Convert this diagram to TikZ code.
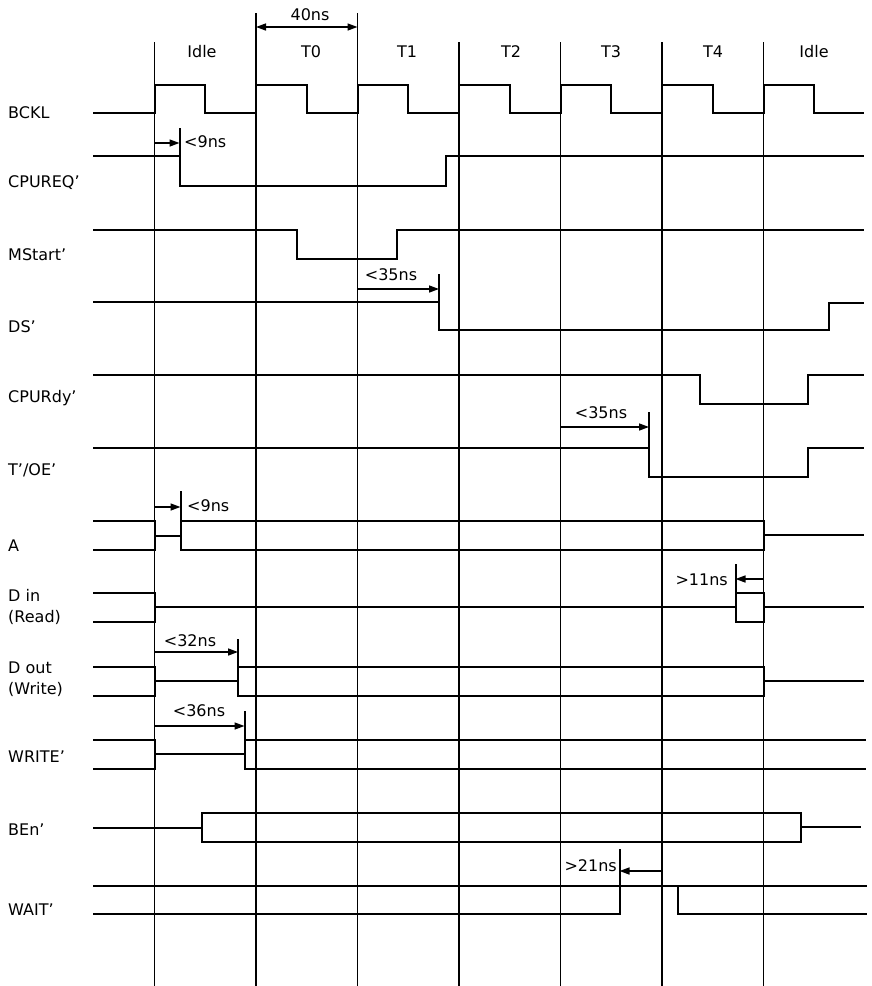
\documentclass[tikz,border=0pt]{standalone}
\usepackage{fontspec}
\setmainfont{DejaVu Sans}
\usetikzlibrary{arrows.meta}
\tikzset{
  sig/.style={line width=2pt, line join=miter, line cap=rect},
  gridline/.style={line width=1.8pt},
  dimarrow/.style={line width=1.5pt, -{Triangle[length=10pt,width=7pt]}},
  dimboth/.style={line width=1.5pt, {Triangle[length=10pt,width=7pt]}-{Triangle[length=10pt,width=7pt]}},
  lbl/.style={anchor=west, inner sep=0pt, align=left, font=\fontsize{16}{21}\selectfont},
  txt/.style={inner sep=0pt, font=\fontsize{16}{20}\selectfont}
}
\begin{document}
\begin{tikzpicture}[x=1pt,y=-1pt]
\useasboundingbox (0,0) rectangle (871,986);
\fill[white] (0,0) rectangle (871,986);

% grid lines
\foreach \x/\t in {154.5/42, 256/13, 357.5/13, 459/42, 560.5/42, 662/42, 763.5/42}
  \draw[gridline] (\x,\t) -- (\x,986);

% phase headers
\node[txt] (hIdleA) at (202,52) {Idle};
\node[txt] (hT0) at (311,52) {T0};
\node[txt] (hT1) at (407,52) {T1};
\node[txt] (hT2) at (511,52) {T2};
\node[txt] (hT3) at (611,52) {T3};
\node[txt] (hT4) at (713,52) {T4};
\node[txt] (hIdleB) at (814,52) {Idle};

% 40ns
\coordinate (p40a) at (256,27);
\coordinate (p40b) at (357.5,27);
\draw[dimboth] (p40a) -- (p40b);
\node[txt] (t40) at (310,15) {40ns};

% signal labels
\node[lbl] (lBCKL) at (8,113) {BCKL};
\node[lbl] (lREQ) at (8,183) {CPUREQ'};
\node[lbl] (lMS) at (8,255) {MStart'};
\node[lbl] (lDS) at (8,327) {DS'};
\node[lbl] (lRdy) at (8,398) {CPURdy'};
\node[lbl] (lOE) at (8,470) {T'/OE'};
\node[lbl] (lA) at (8,546) {A};
\node[lbl] (lDin) at (8,607) {D in\\(Read)};
\node[lbl] (lDout) at (8,679) {D out\\(Write)};
\node[lbl] (lWR) at (8,757) {WRITE'};
\node[lbl] (lBEn) at (8,830) {BEn'};
\node[lbl] (lWAIT) at (8,910) {WAIT'};

% BCKL
\draw[sig] (94,113) foreach \x in {154.5,256,357.5,459,560.5,662,763.5}{ -- (\x,113) -- (\x,85) -- (\x+50.5,85) -- (\x+50.5,113)} -- (863,113);

% CPUREQ'
\draw[sig] (94,156) -- (179.5,156) -- (179.5,186) -- (446,186) -- (446,156) -- (863,156);
\draw[sig] (179.5,129) -- (179.5,156);
\coordinate (r1a) at (154.5,143);
\coordinate (r1b) at (179.5,143);
\draw[dimarrow] (r1a) -- (r1b);
\node[txt, anchor=west] (tr1) at (184,142) {<9ns};

% MStart'
\draw[sig] (94,230) -- (297,230) -- (297,259) -- (396.5,259) -- (396.5,230) -- (863,230);

% DS'
\draw[sig] (94,302) -- (439,302) -- (439,330) -- (829,330) -- (829,303) -- (863,303);
\draw[sig] (439,275) -- (439,302);
\coordinate (r2a) at (357.5,289);
\coordinate (r2b) at (439,289);
\draw[dimarrow] (r2a) -- (r2b);
\node[txt] (tr2) at (391,275) {<35ns};

% CPURdy'
\draw[sig] (94,375) -- (700,375) -- (700,404) -- (807.5,404) -- (807.5,375) -- (863,375);

% T'/OE'
\draw[sig] (94,448) -- (649,448) -- (649,477) -- (807.5,477) -- (807.5,448) -- (863,448);
\draw[sig] (649,413) -- (649,448);
\coordinate (r3a) at (560.5,427);
\coordinate (r3b) at (649,427);
\draw[dimarrow] (r3a) -- (r3b);
\node[txt] (tr3) at (601,413) {<35ns};

% A
\draw[sig] (94,521) -- (154.5,521);
\draw[sig] (94,550) -- (154.5,550);
\draw[sig] (154.5,521) -- (154.5,550);
\draw[sig] (154.5,536) -- (180.5,536);
\draw[sig] (180.5,492) -- (180.5,550);
\draw[sig] (180.5,521) -- (763.5,521);
\draw[sig] (180.5,550) -- (763.5,550);
\draw[sig] (763.5,521) -- (763.5,550);
\draw[sig] (763.5,535) -- (863,535);
\coordinate (r4a) at (154.5,507);
\coordinate (r4b) at (180.5,507);
\draw[dimarrow] (r4a) -- (r4b);
\node[txt, anchor=west] (tr4) at (187,506) {<9ns};

% D in
\draw[sig] (94,593) -- (154.5,593);
\draw[sig] (94,622) -- (154.5,622);
\draw[sig] (154.5,593) -- (154.5,622);
\draw[sig] (154.5,607) -- (735.5,607);
\draw[sig] (735.5,593) rectangle (763.5,622);
\draw[sig] (735.5,565) -- (735.5,593);
\draw[sig] (763.5,607) -- (863,607);
\coordinate (r5a) at (763.5,579);
\coordinate (r5b) at (735.5,579);
\draw[dimarrow] (r5a) -- (r5b);
\node[txt, anchor=east] (tr5) at (728,580) {>11ns};

% D out
\draw[sig] (94,667) -- (154.5,667);
\draw[sig] (94,696) -- (154.5,696);
\draw[sig] (154.5,667) -- (154.5,696);
\draw[sig] (154.5,681) -- (238,681);
\draw[sig] (238,640) -- (238,696);
\draw[sig] (238,667) -- (763.5,667);
\draw[sig] (238,696) -- (763.5,696);
\draw[sig] (763.5,667) -- (763.5,696);
\draw[sig] (763.5,681) -- (863,681);
\coordinate (r6a) at (154.5,652);
\coordinate (r6b) at (238,652);
\draw[dimarrow] (r6a) -- (r6b);
\node[txt] (tr6) at (190,641) {<32ns};

% WRITE'
\draw[sig] (94,740) -- (154.5,740);
\draw[sig] (94,769) -- (154.5,769);
\draw[sig] (154.5,740) -- (154.5,769);
\draw[sig] (154.5,754) -- (244.5,754);
\draw[sig] (244.5,712) -- (244.5,769);
\draw[sig] (244.5,740) -- (865,740);
\draw[sig] (244.5,769) -- (865,769);
\coordinate (r7a) at (154.5,726);
\coordinate (r7b) at (244.5,726);
\draw[dimarrow] (r7a) -- (r7b);
\node[txt] (tr7) at (199,711) {<36ns};

% BEn'
\draw[sig] (94,828) -- (201.5,828);
\draw[sig] (201.5,813) rectangle (800.5,842);
\draw[sig] (800.5,827) -- (860,827);

% WAIT'
\draw[sig] (94,886) -- (866,886);
\draw[sig] (94,914) -- (619.5,914) -- (619.5,850);
\draw[sig] (678,886) -- (678,914) -- (866,914);
\coordinate (r8a) at (662,871);
\coordinate (r8b) at (619.5,871);
\draw[dimarrow] (r8a) -- (r8b);
\node[txt, anchor=east] (tr8) at (617,866) {>21ns};
\end{tikzpicture}
\end{document}
